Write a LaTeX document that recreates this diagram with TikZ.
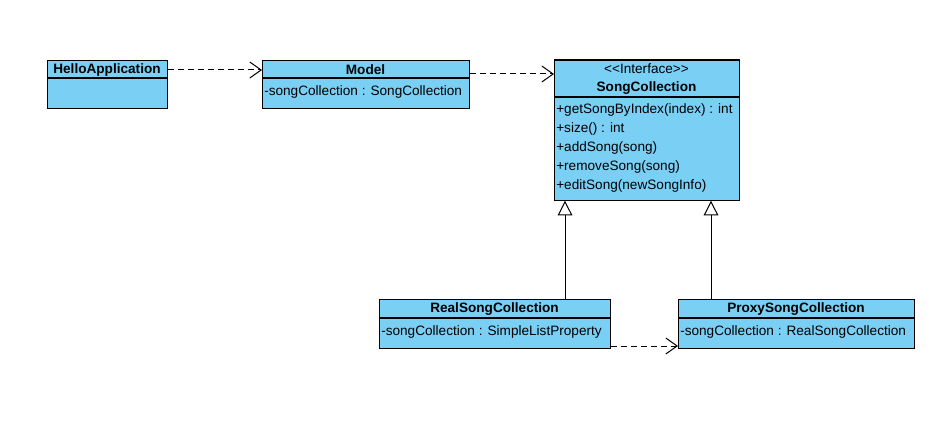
\documentclass[tikz,border=0pt]{standalone}
\usepackage{fontspec}
\setmainfont{Liberation Sans}
\usetikzlibrary{arrows.meta}
\definecolor{classfill}{RGB}{122,207,245}
\tikzset{
  classbox/.style={draw=black, fill=classfill, line width=0.9pt, anchor=north west, inner sep=0pt},
  divider/.style={draw=black, line width=0.9pt},
  hdr/.style={font=\fontsize{10.2}{12}\selectfont\bfseries, inner sep=0pt, anchor=center},
  stereo/.style={font=\fontsize{10.2}{12}\selectfont, inner sep=0pt, anchor=center},
  attr/.style={font=\fontsize{10.2}{12}\selectfont, inner sep=0pt, anchor=west},
  dep/.style={draw=black, line width=0.75pt, dash pattern=on 4.5pt off 3pt, -{Straight Barb[length=8.5pt,width=12pt,line width=0.75pt]}},
  gen/.style={draw=black, line width=0.75pt, -{Triangle[open,length=11pt,width=11pt,fill=white]}}
}
\begin{document}
\begin{tikzpicture}[x=0.75pt,y=-0.75pt]
\useasboundingbox (0,0) rectangle (944,431);
% HelloApplication
\node[classbox, minimum width=120*0.75pt, minimum height=48*0.75pt] (hello) at (47,60) {};
\draw[divider] (47,78) -- (167,78);
\node[hdr] (helloname) at (107,69.5) {HelloApplication};
% Model
\node[classbox, minimum width=207*0.75pt, minimum height=48*0.75pt] (model) at (262,60) {};
\draw[divider] (262,78) -- (469,78);
\node[hdr] (modelname) at (365.5,69.5) {Model};
\node[attr] (modelattr) at (264,92) {-songCollection : SongCollection};
% SongCollection
\node[classbox, minimum width=185*0.75pt, minimum height=140*0.75pt] (sc) at (554,59.5) {};
\draw[divider] (554,97) -- (739,97);
\node[stereo] (scst) at (646.5,69) {<{}<Interface>{}>};
\node[hdr] (scname) at (646.5,88) {SongCollection};
\node[attr] (m1) at (556,110) {+getSongByIndex(index) : int};
\node[attr] (m2) at (556,129) {+size() : int};
\node[attr] (m3) at (556,148) {+addSong(song)};
\node[attr] (m4) at (556,167) {+removeSong(song)};
\node[attr] (m5) at (556,185.5) {+editSong(newSongInfo)};
% RealSongCollection
\node[classbox, minimum width=231*0.75pt, minimum height=49*0.75pt] (real) at (379,299) {};
\draw[divider] (379,318) -- (610,318);
\node[hdr] (realname) at (494.5,309) {RealSongCollection};
\node[attr] (realattr) at (381,332) {-songCollection : SimpleListProperty};
% ProxySongCollection
\node[classbox, minimum width=236*0.75pt, minimum height=49*0.75pt] (proxy) at (678,299) {};
\draw[divider] (678,318) -- (914,318);
\node[hdr] (proxyname) at (796,309) {ProxySongCollection};
\node[attr] (proxyattr) at (680,332) {-songCollection : RealSongCollection};
% connectors
\draw[dep] (hello.north east |- 0,70) -- (model.north west |- 0,70);
\draw[dep] (model.north east |- 0,74) -- (sc.north west |- 0,74);
\draw[dep] (real.south east |- 0,346) -- (proxy.south west |- 0,346);
\draw[gen] (real.north west -| 565,0) -- (sc.south west -| 565,0);
\draw[gen] (proxy.north west -| 711,0) -- (sc.south west -| 711,0);
\end{tikzpicture}
\end{document}
